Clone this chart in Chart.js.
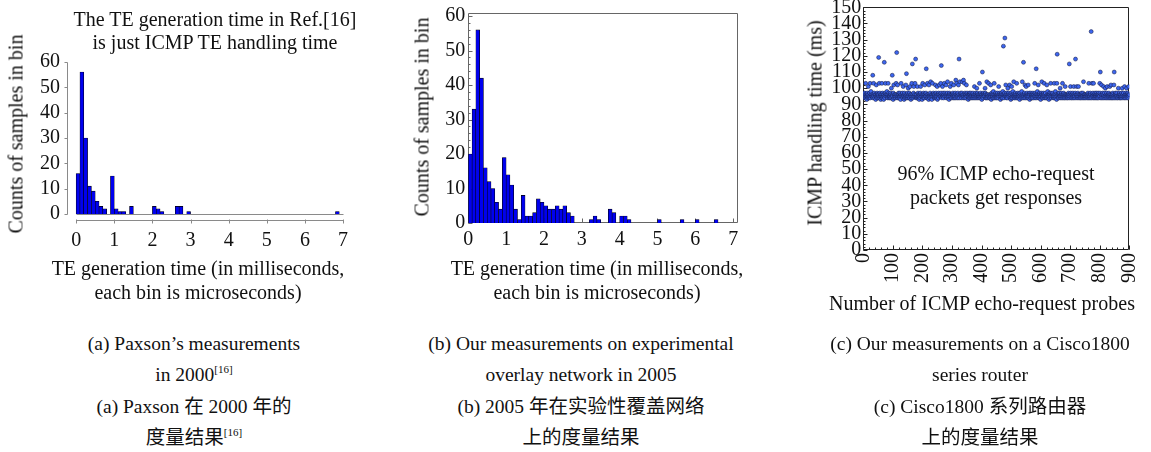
<!DOCTYPE html>
<html>
<head>
<meta charset="utf-8">
<script src="https://cdn.jsdelivr.net/npm/chart.js@4.4.0/dist/chart.umd.min.js"></script>
<style>
  body { margin: 0; background: #fff; }
  #fig { position: relative; width: 1151px; height: 452px; overflow: hidden;
         font-family: "Liberation Serif", "Noto Sans CJK SC", serif; color: #111; }
  #fig canvas { position: absolute; top: 0; }
  .note { position: absolute; font-size: 20px; text-align: center; white-space: nowrap; transform: translateX(-50%); }
  .ytitle { position: absolute; font-size: 20px; white-space: nowrap; transform: translate(-50%, -50%) rotate(-90deg); }
  .cap { position: absolute; top: 328px; font-size: 19.5px; line-height: 31.3px; text-align: center;
         white-space: nowrap; transform: translateX(-50%); }
  .cap sup { font-size: 11px; line-height: 0; vertical-align: 8px; }
</style>
</head>
<body>
<div id="fig">
  <canvas id="paxson" width="380" height="310" style="left:0"></canvas>
  <canvas id="overlay" width="400" height="310" style="left:380px"></canvas>
  <canvas id="cisco" width="371" height="320" style="left:780px"></canvas>

  <div class="note" style="left:215px; top:8px; line-height:23px">The TE generation time in Ref.[16]<br>is just ICMP TE handling time</div>
  <div class="note" style="left:996px; top:161px; line-height:24px">96% ICMP echo-request<br>packets get responses</div>

  <!-- axis titles -->
  <div class="ytitle" style="left:16px; top:134px">Counts of samples in bin</div>
  <div class="note" style="left:198px; top:256px; line-height:24px">TE generation time (in milliseconds,<br>each bin is microseconds)</div>
  <div class="ytitle" style="left:422px; top:117px">Counts of samples in bin</div>
  <div class="note" style="left:597px; top:256px; line-height:24px">TE generation time (in milliseconds,<br>each bin is microseconds)</div>
  <div class="ytitle" style="left:815px; top:123px">ICMP handling time (ms)</div>
  <div class="note" style="left:982px; top:291px; line-height:24px">Number of ICMP echo-request probes</div>

  <div class="cap" style="left:194px">(a) Paxson’s measurements<br>in 2000<sup>[16]</sup><br>(a) Paxson 在 2000 年的<br>度量结果<sup>[16]</sup></div>
  <div class="cap" style="left:581px">(b) Our measurements on experimental<br>overlay network in 2005<br>(b) 2005 年在实验性覆盖网络<br>上的度量结果</div>
  <div class="cap" style="left:980px">(c) Our measurements on a Cisco1800<br>series router<br>(c) Cisco1800 系列路由器<br>上的度量结果</div>
</div>

<script>
// ---- data ----
// histograms: bins are 0.1 ms wide, starting at 0 ms
const BIN_MS = 0.1;
const timeTicks = [0, 1, 2, 3, 4, 5, 6, 7];
const countTicks = [0, 10, 20, 30, 40, 50, 60];

// (a) Paxson, 2000
const paxsonCounts = [
  16, 56, 30, 11, 9, 5, 3, 2, 0, 15,
  2, 1, 1, 0, 3, 0, 0, 0, 0, 0,
  3, 2, 1, 0, 0, 0, 3, 3, 0, 1,
  0, 0, 0, 0, 0, 0, 0, 0, 0, 0,
  0, 0, 0, 0, 0, 0, 0, 0, 0, 0,
  0, 0, 0, 0, 0, 0, 0, 0, 0, 0,
  0, 0, 0, 0, 0, 0, 0, 0, 1, 0
];

// (b) experimental overlay network, 2005
const overlayCounts = [
  20, 33, 56, 42, 16, 12, 10, 6, 4, 19,
  14, 11, 4, 1, 8, 2, 2, 3, 7, 6,
  5, 4, 4, 5, 4, 5, 3, 2, 0, 0,
  0, 0, 1, 2, 1, 0, 0, 4, 3, 0,
  2, 2, 1, 0, 0, 0, 0, 0, 0, 0,
  1, 0, 0, 0, 0, 0, 1, 0, 0, 0,
  1, 0, 0, 0, 0, 1, 0, 0, 0, 0
];

// (c) Cisco1800: ICMP handling time per probe (ms), null = no response
const probeTicks = [0, 100, 200, 300, 400, 500, 600, 700, 800, 900];
const msTicks = [0, 10, 20, 30, 40, 50, 60, 70, 80, 90, 100, 110, 120, 130, 140, 150];
const handlingMs = [
  97,96,95,97,94,96,95,103,94,96,95,93,97,95,96,94,101,95,96,94,97,95,103,94,96,98,95,null,96,95,
  95,108,94,96,103,95,97,94,null,96,95,93,96,102,95,94,97,96,95,94,96,119,95,103,94,97,95,96,93,95,
  96,94,103,95,97,94,96,95,93,96,116,95,94,97,103,96,95,null,96,98,95,94,96,103,95,97,94,96,95,94,
  95,97,94,96,100,95,94,108,96,95,93,97,102,94,96,95,null,96,94,95,103,96,122,95,94,102,96,95,97,94,
  96,95,94,97,95,93,96,103,95,null,96,97,95,94,101,96,95,93,97,95,94,96,95,102,94,109,96,95,94,97,
  95,100,96,94,95,97,94,101,96,95,93,96,94,103,95,115,96,94,95,97,101,95,96,null,103,95,118,96,94,95,
  96,94,101,95,97,94,96,95,93,96,95,94,97,101,95,96,null,95,93,96,103,95,94,97,96,95,94,102,96,95,
  95,97,112,94,96,95,103,94,96,95,93,102,95,94,96,97,95,104,94,96,95,93,96,103,95,null,97,96,95,94,
  96,95,94,102,95,97,94,96,95,101,93,96,95,94,97,96,102,95,null,96,95,103,97,114,95,94,96,101,95,97,
  95,94,96,103,95,97,null,96,95,102,94,96,95,97,104,95,94,96,95,93,97,96,95,101,94,96,95,103,94,96,
  96,95,97,94,96,102,95,94,96,95,97,94,105,96,95,103,94,96,95,97,94,102,96,118,95,94,104,96,null,97,
  95,94,96,97,104,95,96,94,105,96,95,103,94,97,96,95,94,96,102,95,97,null,96,95,93,96,95,94,97,96,
  94,96,95,97,94,96,95,null,94,96,97,95,94,96,95,101,94,96,95,97,94,96,95,100,94,97,95,96,94,95,
  96,95,103,94,96,95,97,94,96,95,93,96,110,95,94,97,96,95,null,96,95,100,97,94,96,95,94,104,96,95,
  94,96,95,103,null,94,96,95,94,96,102,95,93,97,96,95,94,96,95,98,94,96,103,95,94,96,95,97,94,96,
  95,94,96,97,95,94,96,101,95,null,97,96,95,93,96,95,97,94,96,95,94,98,96,126,95,94,96,97,131,95,
  96,102,95,94,97,96,95,94,100,96,95,97,null,96,102,95,94,96,93,97,94,101,96,95,94,98,96,95,104,94,
  95,96,94,97,95,96,94,95,103,96,94,95,97,96,95,94,96,95,93,97,null,95,94,96,95,98,94,104,96,95,
  94,116,95,96,97,94,102,96,95,94,101,96,95,97,94,96,95,102,94,96,95,97,93,96,null,94,97,96,95,94,
  96,95,94,97,96,null,94,96,95,103,97,94,96,95,112,96,94,95,98,96,95,102,94,96,95,97,94,96,95,93,
  95,97,96,104,94,96,95,94,97,96,95,103,94,96,95,97,94,null,95,94,102,96,95,98,94,96,95,93,96,97,
  94,96,95,103,97,94,96,95,null,96,97,95,94,96,95,103,94,96,95,98,94,96,95,93,103,121,96,95,94,97,
  95,94,96,97,95,100,94,96,95,97,94,96,95,103,94,96,95,97,94,96,95,94,101,96,95,94,null,96,95,94,
  96,95,94,97,96,95,115,94,96,95,101,97,94,96,null,94,96,95,97,94,96,101,95,94,96,95,97,118,94,96,
  95,101,96,94,95,97,96,101,94,95,96,null,94,96,95,94,96,97,95,94,96,95,97,94,104,96,95,94,96,95,
  96,94,95,null,96,95,94,96,95,97,94,96,103,95,94,96,95,97,94,96,135,95,94,103,96,95,97,94,103,96,
  95,94,96,97,95,94,96,95,97,94,96,95,94,96,97,95,94,96,95,103,97,110,94,96,95,102,94,96,null,97,
  94,96,101,95,94,97,null,95,100,94,96,95,97,94,101,96,95,94,96,95,97,94,96,101,95,94,96,102,95,94,
  96,95,94,97,96,95,94,102,110,95,94,96,97,95,94,96,95,97,94,null,95,94,100,96,95,97,94,96,95,94,
  95,96,94,97,95,100,96,94,95,97,null,95,94,101,96,95,94,97,96,95,100,94,96,95,97,94,96,101,95,96
];

// ---- helpers ----
Chart.defaults.font.family = '"Liberation Serif", "Times New Roman", serif';
Chart.defaults.font.size = 20;
Chart.defaults.color = '#111';

const BAR_BLUE = '#0000f0';

// histogram counts -> bar points at bin centres (empty bins are skipped)
const toBins = counts => counts.map((c, i) => ({ x: (i + 0.5) * BIN_MS, y: c || null }));

const useTicks = values => scale => { scale.ticks = values.map(value => ({ value })); };

// fixed axis box sizes, so each plot area lands where it should
function pinWidth(w) {
  return s => { s.width = w; s.paddingTop = s.paddingBottom = s.paddingLeft = s.paddingRight = 0; };
}
function pinHeight(h) {
  return s => { s.height = h; s.paddingTop = s.paddingBottom = s.paddingLeft = s.paddingRight = 0; };
}

// frame / detached axes, inward tick marks and the zero line under the bars
const axisDecor = {
  id: 'axisDecor',
  beforeDatasetsDraw(chart, args, opts) {
    const { ctx, chartArea: a, scales: { x, y } } = chart;
    const px = v => Math.round(x.getPixelForValue(v)) + 0.5;
    const py = v => Math.round(y.getPixelForValue(v)) + 0.5;
    const xs = x.ticks.map(t => t.value);
    const ys = y.ticks.map(t => t.value);
    const L = Math.round(a.left) + 0.5, R = Math.round(a.right) - 0.5;
    const T = Math.round(a.top) + 0.5, B = Math.round(a.bottom) - 0.5;

    ctx.save();
    ctx.strokeStyle = opts.color;
    ctx.lineWidth = 1;
    ctx.beginPath();
    if (opts.frame) {
      ctx.rect(L, T, R - L, B - T);
      xs.forEach(v => { ctx.moveTo(px(v), B); ctx.lineTo(px(v), B - opts.tick); });
      ys.forEach(v => { ctx.moveTo(L, py(v)); ctx.lineTo(L + opts.tick, py(v)); });
      if (opts.minorX) {
        for (let v = x.min; v <= x.max; v += opts.minorX) {
          ctx.moveTo(px(v), B); ctx.lineTo(px(v), B - opts.tick / 2);
        }
      }
      if (opts.minorY) {
        for (let v = y.min; v <= y.max + 1e-6; v += opts.minorY) {
          ctx.moveTo(L, py(v)); ctx.lineTo(L + opts.tick / 2, py(v));
        }
      }
    } else {
      // y axis at the left edge, x axis at the bottom edge, neither touching the other
      ctx.moveTo(L, py(ys[0])); ctx.lineTo(L, py(ys[ys.length - 1]));
      ctx.moveTo(px(xs[0]), B); ctx.lineTo(px(xs[xs.length - 1]), B);
      ys.forEach(v => { ctx.moveTo(L - opts.tick, py(v)); ctx.lineTo(L, py(v)); });
      xs.forEach(v => { ctx.moveTo(px(v), B - 1); ctx.lineTo(px(v), B + opts.tick); });
      ctx.moveTo(px(xs[0]), py(0)); ctx.lineTo(px(xs[xs.length - 1]), py(0));
    }
    ctx.stroke();
    ctx.restore();
  }
};
Chart.register(axisDecor);

const quiet = { legend: { display: false }, tooltip: { enabled: false } };
const noGrid = { display: false, drawTicks: false };
const noBorder = { display: false };

function histogram(canvasId, counts, cfg) {
  return new Chart(document.getElementById(canvasId), {
    type: 'bar',
    data: {
      datasets: [{
        data: toBins(counts),
        backgroundColor: BAR_BLUE,
        borderColor: '#000',
        borderWidth: 0.6,
        barPercentage: 1,
        categoryPercentage: 1
      }]
    },
    options: {
      responsive: false,
      animation: false,
      layout: { padding: cfg.padding },
      plugins: { ...quiet, axisDecor: cfg.decor },
      scales: {
        x: {
          type: 'linear',
          offset: false,
          min: cfg.xMin,
          max: cfg.xMax,
          afterBuildTicks: useTicks(timeTicks),
          afterFit: pinHeight(cfg.xHeight),
          grid: noGrid,
          border: noBorder,
          ticks: { padding: cfg.xPad, autoSkip: false, maxRotation: 0 }
        },
        y: {
          min: cfg.yMin,
          max: cfg.yMax,
          afterBuildTicks: useTicks(countTicks),
          afterFit: pinWidth(cfg.yWidth),
          grid: noGrid,
          border: noBorder,
          ticks: { padding: cfg.yPad, autoSkip: false }
        }
      }
    }
  });
}

// (a)
histogram('paxson', paxsonCounts, {
  padding: { left: 0, right: 35, top: 60.7, bottom: 2 },
  xMin: -0.24, xMax: 7.05, xHeight: 87, xPad: 8,
  yMin: -2.76, yMax: 60.5, yWidth: 67, yPad: 7,
  decor: { color: '#8a8a8a', tick: 3 }
});

// (b)
histogram('overlay', overlayCounts, {
  padding: { left: 0, right: 42.3, top: 13.3, bottom: 4 },
  xMin: 0, xMax: 7.12, xHeight: 83, xPad: 5,
  yMin: 0, yMax: 60.8, yWidth: 88.3, yPad: 3,
  decor: { color: '#666', frame: true, tick: 4, minorY: 2 }
});

// (c)
const probePoints = handlingMs
  .map((ms, i) => ms == null ? null : { x: i + 1, y: ms })
  .filter(Boolean);

new Chart(document.getElementById('cisco'), {
  type: 'scatter',
  data: {
    datasets: [{
      data: probePoints,
      pointRadius: 2,
      pointBorderWidth: 0.5,
      pointBackgroundColor: '#3d66ee',
      pointBorderColor: '#10143a'
    }]
  },
  options: {
    responsive: false,
    animation: false,
    layout: { padding: { left: 0, right: 21.7, top: 7.3, bottom: 1 } },
    plugins: { ...quiet, axisDecor: { color: '#222', frame: true, tick: 4, minorY: 2, minorX: 20 } },
    scales: {
      x: {
        type: 'linear',
        min: 0,
        max: 900,
        afterBuildTicks: useTicks(probeTicks),
        afterFit: pinHeight(69),
        grid: noGrid,
        border: noBorder,
        ticks: { minRotation: 90, maxRotation: 90, autoSkip: false, padding: 3 }
      },
      y: {
        min: 0,
        max: 150,
        afterBuildTicks: useTicks(msTicks),
        afterFit: pinWidth(83.3),
        grid: noGrid,
        border: noBorder,
        ticks: { padding: 2, autoSkip: false }
      }
    }
  }
});
</script>
</body>
</html>
